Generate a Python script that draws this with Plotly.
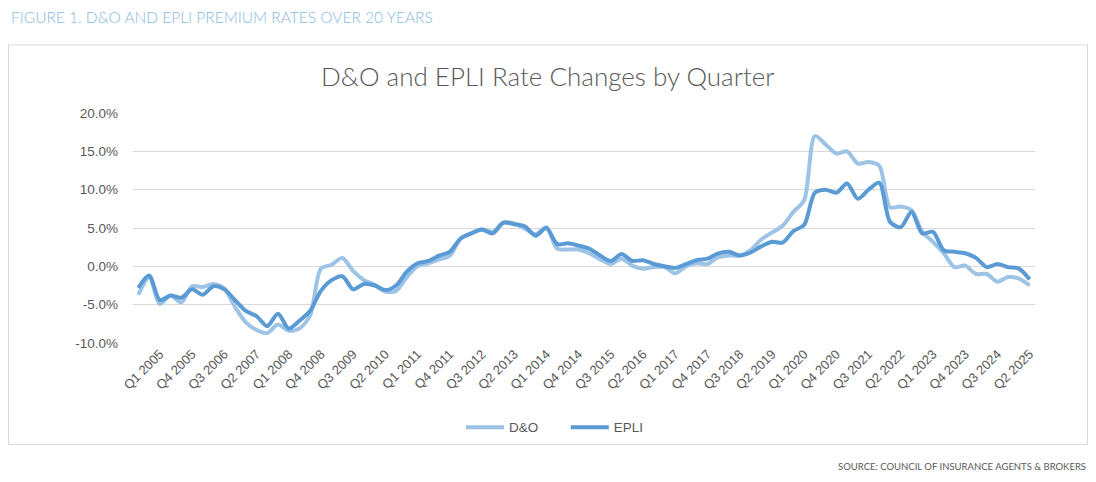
import plotly.graph_objects as go

# ---------------- data ----------------
years = list(range(2004, 2026))
quarters = [f"Q{q} {y}" for y in years for q in (1, 2, 3, 4)]
quarters = quarters[quarters.index("Q3 2004"):quarters.index("Q2 2025") + 1]

dando = [-3.7, -1.4, -4.9, -3.8, -4.7, -2.6, -2.7, -2.3, -2.9, -5.3,
         -7.3, -8.3, -8.7, -7.6, -8.4, -8.1, -6.4, -0.3, 0.2, 1.1,
         -0.6, -1.8, -2.4, -3.3, -3.2, -1.4, 0.0, 0.4, 0.9, 1.4,
         3.6, 4.3, 4.8, 4.5, 5.7, 5.6, 4.9, 4.2, 5.1, 2.3,
         2.2, 2.2, 1.7, 0.9, 0.3, 1.0, 0.1, -0.3, -0.1, -0.1,
         -0.9, 0.0, 0.4, 0.3, 1.2, 1.4, 1.4, 2.1, 3.5, 4.4,
         5.3, 7.1, 8.6, 17.0, 15.9, 14.7, 15.0, 13.4, 13.6, 13.1,
         7.7, 7.8, 7.3, 4.5, 3.2, 1.7, -0.1, 0.1, -1.0, -1.0,
         -2.0, -1.4, -1.6, -2.5]

epli = [-2.8, -1.2, -4.4, -3.8, -4.1, -3.0, -3.7, -2.6, -3.0, -4.4,
        -5.8, -6.5, -7.8, -6.2, -8.1, -7.1, -5.8, -3.2, -1.8, -1.3,
        -3.0, -2.3, -2.5, -3.1, -2.5, -0.7, 0.4, 0.7, 1.4, 1.9,
        3.6, 4.3, 4.8, 4.3, 5.7, 5.5, 5.2, 4.0, 5.0, 2.9,
        3.0, 2.7, 2.3, 1.4, 0.7, 1.6, 0.7, 0.8, 0.3, 0.0,
        -0.2, 0.3, 0.8, 1.0, 1.7, 1.9, 1.4, 1.8, 2.6, 3.2,
        3.1, 4.6, 5.4, 9.6, 10.0, 9.6, 10.8, 8.8, 10.0, 10.9,
        5.8, 5.1, 7.1, 4.3, 4.5, 2.1, 1.9, 1.7, 1.1, -0.1,
        0.3, -0.1, -0.3, -1.7]

tick_labels = quarters[quarters.index("Q1 2005")::3]
y_ticks = [-10, -5, 0, 5, 10, 15, 20]
y_tick_text = [f"{v:.1f}%" for v in y_ticks]

# ---------------- layout helpers ----------------
# page body has an 8px margin, so the figure is placed at (8, 8)
OFF = 8
W, H = 1096 - 2 * OFF, 482 - 2 * OFF
PL, PR, PT, PB = 133 - OFF, 1035 - OFF, 113 - OFF, 342.7 - OFF


def px(x):
    x = x - OFF
    return (x - PL) / (PR - PL)


def py(y):
    y = y - OFF
    return (PB - y) / (PB - PT)


TXT = "#595959"
FONT = "Liberation Sans"
GAP = "\u00a0" * 6

fig = go.Figure()
fig.add_trace(go.Scatter(
    x=quarters, y=dando, name="D&O" + GAP, mode="lines",
    line=dict(color="#9dc3e6", width=4, shape="spline", smoothing=0.8),
))
fig.add_trace(go.Scatter(
    x=quarters, y=epli, name="EPLI", mode="lines",
    line=dict(color="#5b9bd5", width=4, shape="spline", smoothing=0.8),
))

fig.update_layout(
    width=W, height=H,
    margin=dict(l=PL, r=W - PR, t=PT, b=H - PB, pad=0),
    paper_bgcolor="white", plot_bgcolor="white",
    font=dict(family=FONT, color=TXT, size=13),
    showlegend=True,
    legend=dict(orientation="h", x=px(555), xanchor="center",
                y=py(427), yanchor="middle",
                font=dict(family=FONT, size=13.5, color=TXT),
                bgcolor="rgba(0,0,0,0)", itemwidth=38),
    xaxis=dict(type="category", range=[-0.5, len(quarters) - 0.5],
               tickmode="array", tickvals=tick_labels, ticktext=tick_labels,
               tickangle=-45, showgrid=False, showline=False, zeroline=False,
               ticks="", tickfont=dict(family=FONT, size=13, color=TXT)),
    yaxis=dict(range=[-10, 20], tickmode="array", tickvals=y_ticks,
               ticktext=y_tick_text, showgrid=True,
               gridcolor="#d9d9d9", gridwidth=1, zeroline=False,
               showline=False, ticks="", ticklabelstandoff=14,
               tickfont=dict(family=FONT, size=13.5, color=TXT)),
    shapes=[dict(type="rect", xref="paper", yref="paper",
                 x0=px(8.5), x1=px(1087.5), y0=py(444), y1=py(45),
                 line=dict(color="#d9d9d9", width=1), layer="below")],
    annotations=[
        dict(text="FIGURE 1. D&O AND EPLI PREMIUM RATES OVER 20 YEARS",
             xref="paper", yref="paper", x=px(9), y=py(17),
             xanchor="left", yanchor="middle", showarrow=False,
             font=dict(family="Lato", size=15.5, color="#86b9df", weight=300)),
        dict(text="D&O and EPLI Rate Changes by Quarter",
             xref="paper", yref="paper", x=px(548), y=py(76),
             xanchor="center", yanchor="middle", showarrow=False,
             font=dict(family="Lato", size=26, color=TXT, weight=300)),
        dict(text="SOURCE: COUNCIL OF INSURANCE AGENTS & BROKERS",
             xref="paper", yref="paper", x=px(1088), y=py(466),
             xanchor="right", yanchor="middle", showarrow=False,
             font=dict(family="Lato", size=9.5, color=TXT)),
    ],
)

fig.write_html("out.html")
